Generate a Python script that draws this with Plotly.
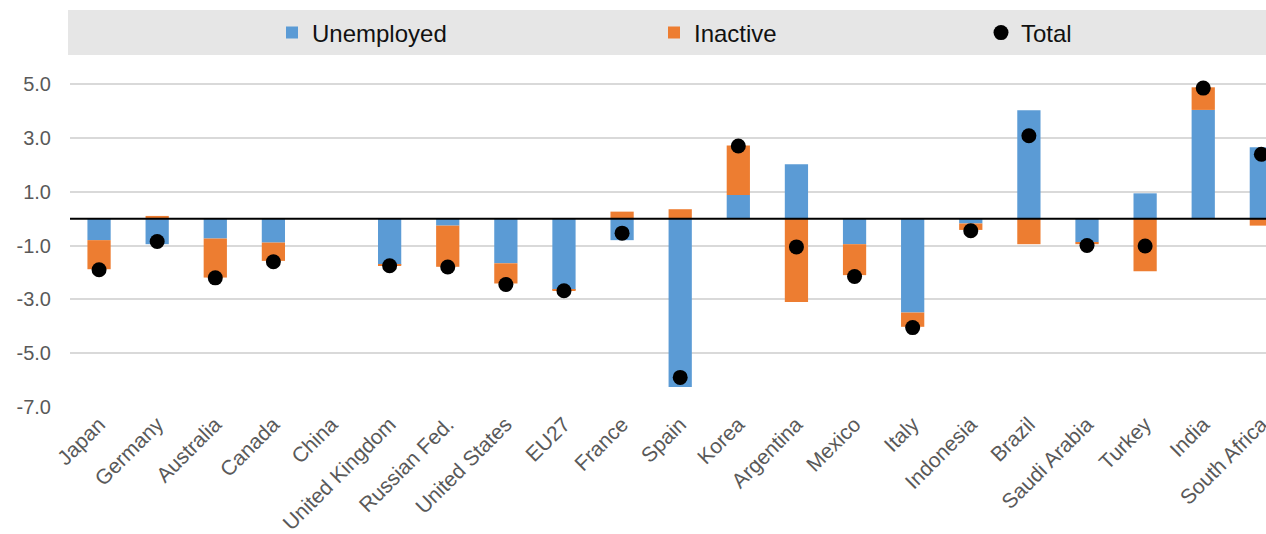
import plotly.graph_objects as go

countries = ["Japan", "Germany", "Australia", "Canada", "China", "United Kingdom",
             "Russian Fed.", "United States", "EU27", "France", "Spain", "Korea",
             "Argentina", "Mexico", "Italy", "Indonesia", "Brazil", "Saudi Arabia",
             "Turkey", "India", "South Africa"]
unemployed = [-0.80, -0.95, -0.74, -0.89, 0.0, -1.72, -0.26, -1.66, -2.65, -0.80, -6.26,
              0.88, 2.02, -0.95, -3.49, -0.18, 4.03, -0.88, 0.94, 4.04, 2.65]
inactive = [-1.08, 0.10, -1.45, -0.68, 0.0, -0.03, -1.53, -0.75, -0.03, 0.26, 0.35,
            1.84, -3.10, -1.15, -0.53, -0.24, -0.95, -0.07, -1.96, 0.84, -0.26]
total = [-1.90, -0.85, -2.20, -1.60, None, -1.75, -1.80, -2.45, -2.68, -0.54, -5.90,
         2.70, -1.05, -2.15, -4.05, -0.45, 3.08, -1.00, -1.02, 4.85, 2.39]
ytick_vals = [-7, -5, -3, -1, 1, 3, 5]
ytick_text = ["-7.0", "-5.0", "-3.0", "-1.0", "1.0", "3.0", "5.0"]

BLUE = "#5B9BD5"
ORANGE = "#ED7D31"
FONT = "Liberation Sans, Arial, sans-serif"

W, H = 1266, 534
ML, MR, MT, MB = 70, 0, 76, 127
ph = H - MT - MB


def py2paper(py):
    return (H - MB - py) / ph


def px2paper(px):
    return (px - ML) / (W - ML - MR)


fig = go.Figure()
fig.add_trace(go.Bar(x=countries, y=unemployed, name="Unemployed", showlegend=True,
                     marker=dict(color=BLUE, line=dict(width=0)), legend="legend"))
fig.add_trace(go.Bar(x=countries, y=inactive, name="Inactive", showlegend=True,
                     marker=dict(color=ORANGE, line=dict(width=0)), legend="legend2"))
fig.add_trace(go.Scatter(x=countries, y=total, name="Total", mode="markers", showlegend=True,
                         marker=dict(color="black", size=15), cliponaxis=False,
                         legend="legend3"))

leg_common = dict(orientation="h", yanchor="middle", xanchor="left",
                  bgcolor="rgba(0,0,0,0)", font=dict(family=FONT, size=24, color="#111111"))
ly = py2paper(33)

fig.update_layout(
    width=W, height=H,
    margin=dict(l=ML, r=MR, t=MT, b=MB, pad=0, autoexpand=False),
    paper_bgcolor="white", plot_bgcolor="white",
    barmode="relative", bargap=0.6,
    showlegend=True,
    font=dict(family=FONT, color="#595959"),
    legend=dict(x=px2paper(272), y=ly, **leg_common),
    legend2=dict(x=px2paper(654), y=ly, **leg_common),
    legend3=dict(x=px2paper(981), y=ly, **leg_common),
    xaxis=dict(range=[-0.5, 20.08], tickangle=-45, showgrid=False, showline=False,
               automargin=False,
               ticks="", tickfont=dict(family=FONT, size=21, color="#595959")),
    yaxis=dict(range=[-7, 5.3], tickvals=ytick_vals, ticktext=ytick_text,
               showgrid=True, gridcolor="#D9D9D9", gridwidth=1.5, zeroline=False,
               showline=False, ticks="", ticklabelstandoff=18, automargin=False,
               tickfont=dict(family=FONT, size=20, color="#595959")),
    shapes=[
        dict(type="rect", xref="paper", yref="paper", x0=px2paper(68), x1=1.0,
             y0=py2paper(55), y1=py2paper(10), fillcolor="#E6E6E6",
             line=dict(width=0), layer="below"),
        dict(type="line", xref="paper", yref="y", x0=0, x1=1, y0=0, y1=0,
             line=dict(color="black", width=2), layer="above"),
    ],
)

fig.write_html("out.html")
